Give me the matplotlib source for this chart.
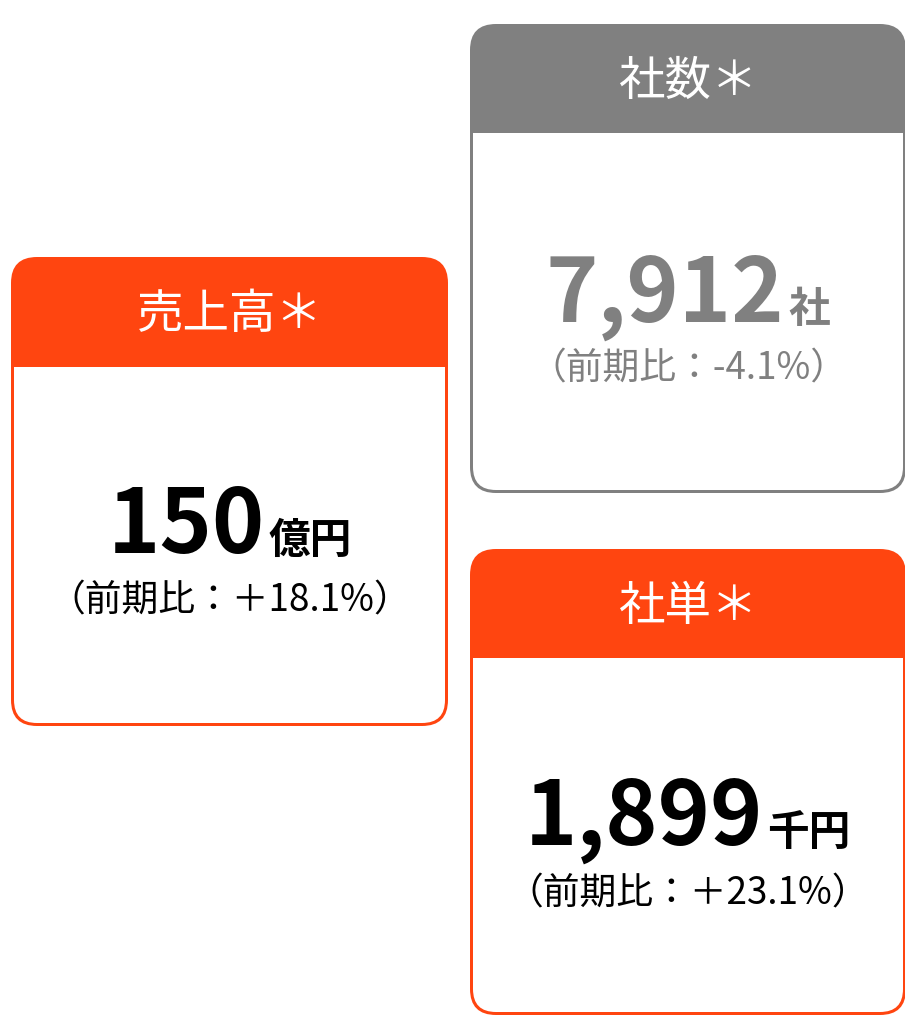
import matplotlib
matplotlib.use('Agg')
import matplotlib.pyplot as plt
from matplotlib.patches import FancyBboxPatch, Rectangle

plt.rcParams['font.family'] = ['Noto Sans CJK JP', 'DejaVu Sans']

ORANGE = '#ff4510'
GRAY = '#808080'

# card contents
titles = ['売上高＊', '社数＊', '社単＊']
values = ['150', '7,912', '1,899']
units = ['億円', '社', '千円']
changes = ['（前期比：＋18.1%）', '（前期比：-4.1%）', '（前期比：＋23.1%）']
colors = [ORANGE, GRAY, ORANGE]
text_colors = ['black', GRAY, 'black']

# card boxes in pixels: left, top, right, bottom, header bottom
boxes = [(11, 257, 448, 726, 367),
         (470, 24, 906, 493, 133),
         (470, 549, 906, 1015, 658)]

W, H = 905, 1016
fig = plt.figure(figsize=(W / 100, H / 100), dpi=100)
ax = fig.add_axes([0, 0, 1, 1])
ax.set_xlim(0, W)
ax.set_ylim(H, 0)
ax.axis('off')

bw = 3
r = 26


def draw_card(i):
    x0, y0, x1, y1, yh = boxes[i]
    c = colors[i]
    ax.add_patch(FancyBboxPatch((x0, y0), x1 - x0, y1 - y0,
                                boxstyle='round,pad=0,rounding_size=%d' % r,
                                fc=c, ec='none'))
    ax.add_patch(FancyBboxPatch((x0 + bw, yh), x1 - x0 - 2 * bw, y1 - bw - yh,
                                boxstyle='round,pad=0,rounding_size=%d' % (r - bw),
                                fc='white', ec='none'))
    ax.add_patch(Rectangle((x0 + bw, yh), x1 - x0 - 2 * bw, 30,
                           fc='white', ec='none'))
    cx = (x0 + x1) / 2
    ax.text(cx, (y0 + yh) / 2 + 3, titles[i], color='white', fontsize=33.5,
            ha='center', va='center')
    return cx


num_base = [553, 322, 845]
sub_y = [601, 369, 894]

fig.canvas.draw()
renderer = fig.canvas.get_renderer()

for i in range(3):
    cx = draw_card(i)
    tc = text_colors[i]
    t1 = ax.text(cx, num_base[i], values[i], color=tc, fontsize=64,
                 fontweight='bold', ha='right', va='baseline')
    t2 = ax.text(cx + 4, num_base[i], units[i], color=tc, fontsize=30,
                 fontweight='bold', ha='left', va='baseline')
    w1 = t1.get_window_extent(renderer).width
    w2 = t2.get_window_extent(renderer).width
    total = w1 + 4 + w2
    left = cx - total / 2
    t1.set_x(left + w1)
    t2.set_x(left + w1 + 4)
    ax.text(cx, sub_y[i], changes[i], color=tc, fontsize=26.5,
            ha='center', va='center')

fig.savefig('out.png', dpi=100)
